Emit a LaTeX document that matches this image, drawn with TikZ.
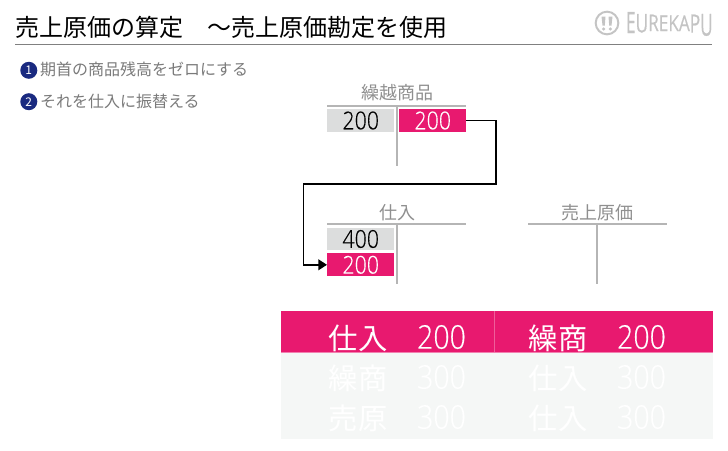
\documentclass[tikz,border=0pt]{standalone}
\usepackage{fontspec}
\usepackage{graphicx}
\usetikzlibrary{arrows.meta}
\setmainfont{Noto Sans CJK JP}
\newfontfamily\numfont[FakeStretch=0.87,FakeBold=0.3]{Open Sans Light}
\newfontfamily\logofont[FakeBold=0.5]{Open Sans}
\definecolor{pinkbox}{HTML}{E8196F}
\definecolor{greybox}{HTML}{DCDDDD}
\definecolor{fade}{HTML}{F5F7F6}
\definecolor{navy}{HTML}{1A2A80}
\definecolor{rulegrey}{HTML}{B5B5B5}
\definecolor{txtgrey}{HTML}{7A7A7A}
\definecolor{lblgrey}{HTML}{8F8F8F}
\definecolor{logogrey}{HTML}{C4C4C4}
\tikzset{
  every node/.style={inner sep=0pt,outer sep=0pt},
  title/.style={anchor=west,font=\fontsize{18pt}{20pt}\selectfont,text=black},
  item/.style={anchor=west,font=\fontsize{12pt}{14pt}\selectfont,text=txtgrey},
  badge/.style={circle,fill=navy,minimum size=12.75pt,text=white,font=\fontsize{9pt}{9pt}\selectfont},
  acct/.style={font=\fontsize{13.5pt}{15pt}\selectfont,text=lblgrey},
  truled/.style={draw=rulegrey,line width=1.5pt},
  greycell/.style={fill=greybox,minimum width=50.6pt,minimum height=17.2pt,text=black,font=\numfont\fontsize{18.4pt}{20pt}\selectfont},
  pinkcell/.style={fill=pinkbox,minimum width=50.6pt,minimum height=17.2pt,text=white,font=\numfont\fontsize{18.4pt}{20pt}\selectfont},
  flow/.style={draw=black,line width=1.3pt},
  jrnl/.style={text=white,font=\fontsize{22pt}{24pt}\selectfont},
  jnum/.style={text=white,font=\numfont\fontsize{24.5pt}{26pt}\selectfont},
}
\begin{document}
\begin{tikzpicture}[x=0.75pt,y=-0.75pt]
\useasboundingbox (0,0) rectangle (728,450);
% header
\node[title] (ttl) at (15,27) {売上原価の算定　～売上原価勘定を使用};
\coordinate (hl) at (15,44.5);
\coordinate (hr) at (712,44.5);
\draw[draw=gray,line width=0.75pt] (hl) -- (hr);
% logo
\node[circle,draw=logogrey,line width=1.5pt,minimum size=17pt] (face) at (607,23) {};
\fill[logogrey] (601.5,16.5) -- (605.5,16.5) -- (604.8,25.5) -- (602.5,25.5) -- cycle;
\fill[logogrey] (608.5,16.5) -- (612.5,16.5) -- (611.5,25.5) -- (609.2,25.5) -- cycle;
\fill[logogrey] (603.7,29) circle (1.3pt);
\fill[logogrey] (610.3,29) circle (1.3pt);
\node[anchor=base west,text=logogrey,font=\logofont\fontsize{19pt}{20pt}\selectfont] (logo) at (626,33)
 {\scalebox{0.68}[1.16]{E}\raisebox{0.4pt}{\scalebox{0.68}[1.02]{U}}\raisebox{1.5pt}{\scalebox{0.68}[0.9]{R}\scalebox{0.68}[0.86]{E}\scalebox{0.68}[0.86]{K}\scalebox{0.68}[0.86]{A}}\raisebox{0.3pt}{\scalebox{0.68}[1.0]{P}}\raisebox{-2pt}{\scalebox{0.68}[1.2]{U}}};
% items
\node[badge] (b1) at (28.8,70.3) {1};
\node[item] (i1) at (40,69) {期首の商品残高をゼロにする};
\node[badge] (b2) at (28.8,101.7) {2};
\node[item] (i2) at (40,101) {それを仕入に振替える};
% account 1
\node[acct] (a1) at (397,93) {繰越商品};
\node[greycell] (a1l) at (360.75,120.5) {200};
\node[pinkcell] (a1r) at (432.75,120.5) {200};
\coordinate (a1a) at (327,106); \coordinate (a1b) at (466,106);
\coordinate (a1c) at (397,106); \coordinate (a1d) at (397,166);
\draw[truled] (a1a) -- (a1b);
\draw[truled] (a1c) -- (a1d);
% account 2
\node[acct] (a2) at (397,213) {仕入};
\node[greycell] (a2l) at (360.75,239) {400};
\node[pinkcell] (a2p) at (360.75,264.8) {200};
\coordinate (a2a) at (327,224); \coordinate (a2b) at (466,224);
\coordinate (a2c) at (397,224); \coordinate (a2d) at (397,284);
\draw[truled] (a2a) -- (a2b);
\draw[truled] (a2c) -- (a2d);
% account 3
\node[acct] (a3) at (597,213) {売上原価};
\coordinate (a3a) at (528,224); \coordinate (a3b) at (667,224);
\coordinate (a3c) at (597,224); \coordinate (a3d) at (597,284);
\draw[truled] (a3a) -- (a3b);
\draw[truled] (a3c) -- (a3d);
% connector
\coordinate (w1) at (496,120.5);
\coordinate (w2) at (496,184);
\coordinate (w3) at (303.5,184);
\coordinate (w4) at (303.5,264.8);
\draw[flow,-{Triangle[length=6.5pt,width=8pt]}] (a1r.east) -- (w1) -- (w2) -- (w3) -- (w4) -- (a2p.west);
% journal table
\fill[fade] (281,352) rectangle (713,439);
\fill[pinkbox] (281,311) rectangle (713,352);
\draw[draw=pinkbox!70!white,line width=0.5pt] (494,311) -- (494,352);
\draw[draw=pinkbox!55!white,line width=0.75pt] (281,352) -- (713,352);
\node[jrnl] (t11) at (358,338) {仕入};
\node[jnum] (t12) at (441.5,337) {200};
\node[jrnl] (t13) at (558,338) {繰商};
\node[jnum] (t14) at (641.5,337) {200};
\node[jrnl] (t21) at (358,378) {繰商};
\node[jnum] (t22) at (441.5,377) {300};
\node[jrnl] (t23) at (558,378) {仕入};
\node[jnum] (t24) at (641.5,377) {300};
\node[jrnl] (t31) at (358,418) {売原};
\node[jnum] (t32) at (441.5,417) {300};
\node[jrnl] (t33) at (558,418) {仕入};
\node[jnum] (t34) at (641.5,417) {300};
\end{tikzpicture}
\end{document}
